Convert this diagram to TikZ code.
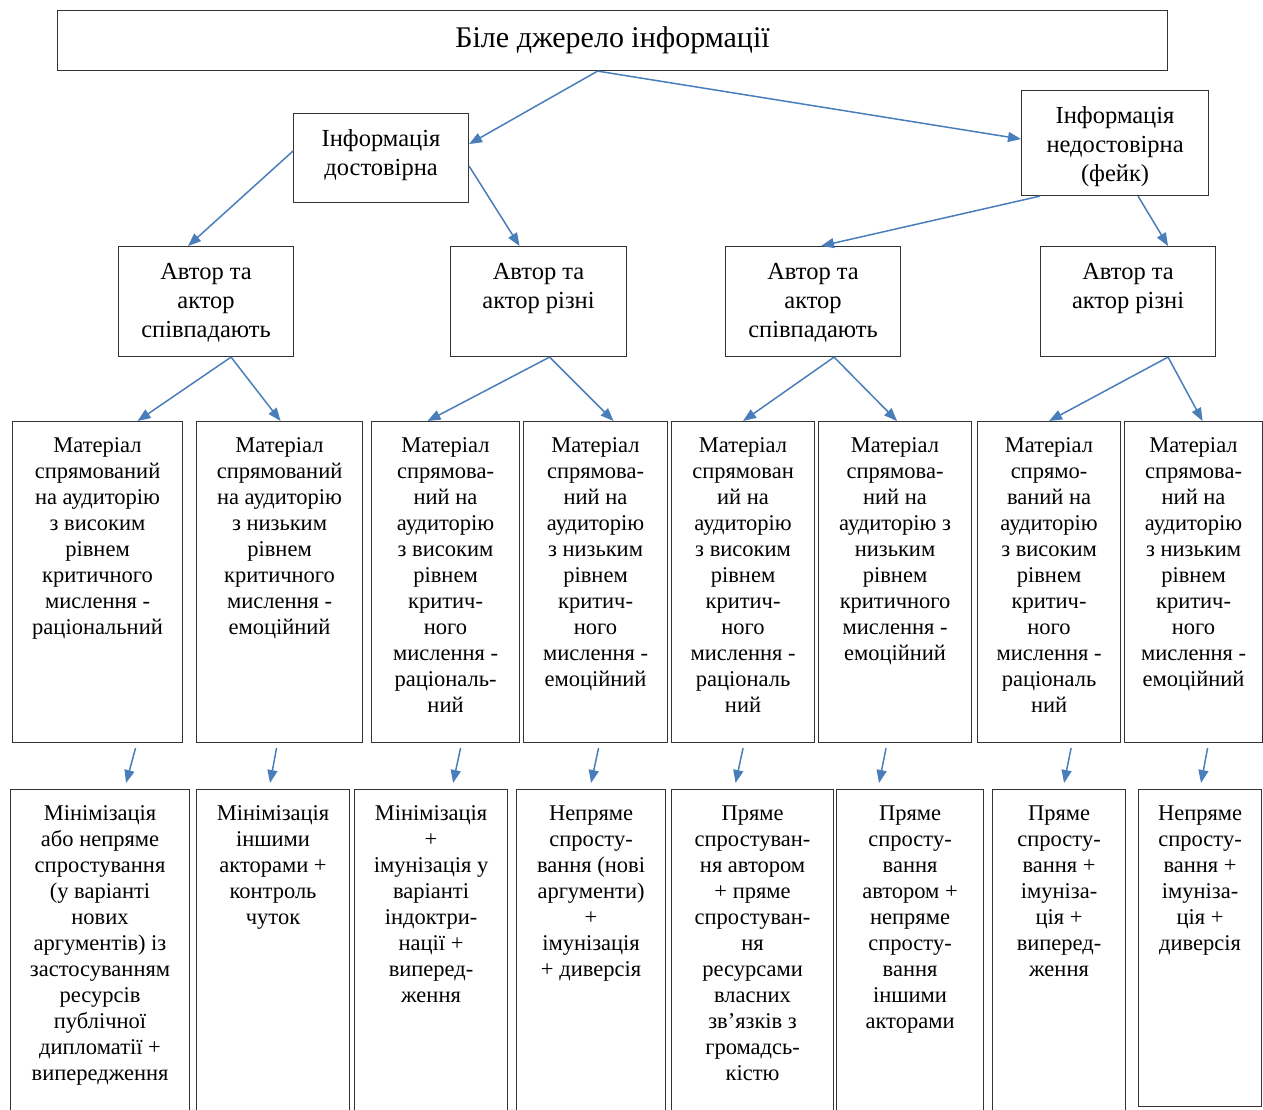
\documentclass[tikz,border=0pt]{standalone}
\usepackage{fontspec}
\setmainfont{Liberation Serif}
\usetikzlibrary{arrows.meta,calc}
\definecolor{arrowblue}{HTML}{4A7EBB}
\newcommand{\tbox}[3]{\parbox[c][#2][t]{#1}{\vspace*{13pt}\centering\strut #3}}
\tikzset{
  box/.style={draw=black!80, line width=1.1pt, inner sep=0pt, anchor=north west},
  big/.style={font=\fontsize{24.5}{29}\selectfont},
  small/.style={font=\fontsize{22.5}{26}\selectfont},
  arr/.style={draw=arrowblue, line width=1.5pt, -{Triangle[length=13pt,width=10pt]}}
}
\begin{document}
\begin{tikzpicture}[x=1pt,y=-1pt]
\useasboundingbox (0,0) rectangle (1263,1109);
\clip (0,0) rectangle (1263,1109);
% level 1
\node[box, minimum width=1110pt, minimum height=60pt, font=\fontsize{30}{34}\selectfont] (top) at (57,10) {Біле джерело інформації};
% level 2
\node[box, big] (rel) at (293,113) {\tbox{175pt}{89pt}{Інформація\\достовірна}};
\node[box, big] (fake) at (1021,90) {\tbox{187pt}{105pt}{Інформація\\недостовірна\\(фейк)}};
% level 3
\node[box, big] (A1) at (118,246) {\tbox{175pt}{110pt}{Автор та\\актор\\співпадають}};
\node[box, big] (A2) at (450,246) {\tbox{176pt}{110pt}{Автор та\\актор різні}};
\node[box, big] (A3) at (725,246) {\tbox{175pt}{110pt}{Автор та\\актор\\співпадають}};
\node[box, big] (A4) at (1040,246) {\tbox{175pt}{110pt}{Автор та\\актор різні}};
% level 4
\node[box, small] (M1) at (12,421) {\tbox{170pt}{321pt}{Матеріал\\спрямований\\на аудиторію\\з високим\\рівнем\\критичного\\мислення -\\раціональний}};
\node[box, small] (M2) at (196,421) {\tbox{166pt}{321pt}{Матеріал\\спрямований\\на аудиторію\\з низьким\\рівнем\\критичного\\мислення -\\емоційний}};
\node[box, small] (M3) at (371,421) {\tbox{148pt}{321pt}{Матеріал\\спрямова-\\ний на\\аудиторію\\з високим\\рівнем\\критич-\\ного\\мислення -\\раціональ-\\ний}};
\node[box, small] (M4) at (523,421) {\tbox{144pt}{321pt}{Матеріал\\спрямова-\\ний на\\аудиторію\\з низьким\\рівнем\\критич-\\ного\\мислення -\\емоційний}};
\node[box, small] (M5) at (671,421) {\tbox{143pt}{321pt}{Матеріал\\спрямован\\ий на\\аудиторію\\з високим\\рівнем\\критич-\\ного\\мислення -\\раціональ\\ний}};
\node[box, small] (M6) at (818,421) {\tbox{153pt}{321pt}{Матеріал\\спрямова-\\ний на\\аудиторію з\\низьким\\рівнем\\критичного\\мислення -\\емоційний}};
\node[box, small] (M7) at (977,421) {\tbox{143pt}{321pt}{Матеріал\\спрямо-\\ваний на\\аудиторію\\з високим\\рівнем\\критич-\\ного\\мислення -\\раціональ\\ний}};
\node[box, small] (M8) at (1124,421) {\tbox{138pt}{321pt}{Матеріал\\спрямова-\\ний на\\аудиторію\\з низьким\\рівнем\\критич-\\ного\\мислення -\\емоційний}};
% level 5
\node[box, small] (B1) at (10,789) {\tbox{179pt}{335pt}{Мінімізація\\або непряме\\спростування\\(у варіанті\\нових\\аргументів) із\\застосуванням\\ресурсів\\публічної\\дипломатії +\\випередження}};
\node[box, small] (B2) at (196,789) {\tbox{153pt}{335pt}{Мінімізація\\іншими\\акторами +\\контроль\\чуток}};
\node[box, small] (B3) at (354,789) {\tbox{153pt}{335pt}{Мінімізація\\+\\імунізація у\\варіанті\\індоктри-\\нації +\\випеpед-\\ження}};
\node[box, small] (B4) at (516,789) {\tbox{149pt}{335pt}{Непряме\\спросту-\\вання (нові\\аргументи)\\+\\імунізація\\+ диверсія}};
\node[box, small] (B5) at (671,789) {\tbox{162pt}{335pt}{Пряме\\спростуван-\\ня автором\\+ пряме\\спростуван-\\ня\\ресурсами\\власних\\зв’язків з\\громадсь-\\кістю}};
\node[box, small] (B6) at (836,789) {\tbox{147pt}{335pt}{Пряме\\спросту-\\вання\\автором +\\непряме\\спросту-\\вання\\іншими\\акторами}};
\node[box, small] (B7) at (992,789) {\tbox{133pt}{335pt}{Пряме\\спросту-\\вання +\\імуніза-\\ція +\\випеpед-\\ження}};
\node[box, small] (B8) at (1138,789) {\tbox{123pt}{317pt}{Непряме\\спросту-\\вання +\\імуніза-\\ція +\\диверсія}};
% connectors
\draw[arr] ($(top.south)+(-15,0)$) -- ($(rel.east)+(0,-14)$);
\draw[arr] ($(top.south)+(-15,0)$) -- ($(fake.west)+(0,-4)$);
\draw[arr] ($(rel.west)+(0,-7)$) -- ($(A1.north)+(-18,0)$);
\draw[arr] ($(rel.east)+(0,8)$) -- ($(A2.north)+(-19,0)$);
\draw[arr] ($(fake.south)+(-75,0)$) -- ($(A3.north)+(8,0)$);
\draw[arr] ($(fake.south)+(23,0)$) -- ($(A4.north)+(40,0)$);
\draw[arr] ($(A1.south)+(25,0)$) -- ($(M1.north)+(40,0)$);
\draw[arr] ($(A1.south)+(25,0)$) -- ($(M2.north)+(1,0)$);
\draw[arr] ($(A2.south)+(11,0)$) -- ($(M3.north)+(-18,0)$);
\draw[arr] ($(A2.south)+(11,0)$) -- ($(M4.north)+(18,0)$);
\draw[arr] ($(A3.south)+(21,0)$) -- ($(M5.north)+(0,0)$);
\draw[arr] ($(A3.south)+(21,0)$) -- ($(M6.north)+(2,0)$);
\draw[arr] ($(A4.south)+(40,0)$) -- ($(M7.north)+(0,0)$);
\draw[arr] ($(A4.south)+(40,0)$) -- ($(M8.north)+(9,0)$);
\draw[arr] ($(M1.south)+(38,5)$) -- ($(B1.north)+(26,-6)$);
\draw[arr] ($(M2.south)+(-3,5)$) -- ($(B2.north)+(-3,-6)$);
\draw[arr] ($(M3.south)+(15,5)$) -- ($(B3.north)+(22,-6)$);
\draw[arr] ($(M4.south)+(3,5)$) -- ($(B4.north)+(0,-6)$);
\draw[arr] ($(M5.south)+(0,5)$) -- ($(B5.north)+(-17,-6)$);
\draw[arr] ($(M6.south)+(-9,5)$) -- ($(B6.north)+(-31,-6)$);
\draw[arr] ($(M7.south)+(22,5)$) -- ($(B7.north)+(5,-6)$);
\draw[arr] ($(M8.south)+(14,5)$) -- ($(B8.north)+(1,-6)$);
\end{tikzpicture}
\end{document}
